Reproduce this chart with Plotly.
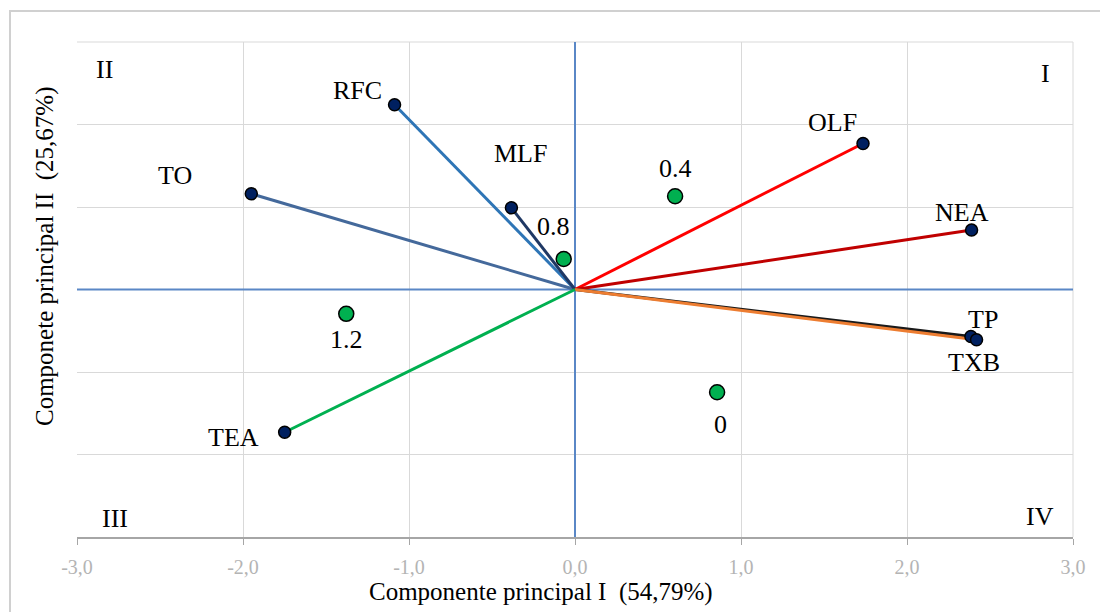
import plotly.graph_objects as go

# ---- data ----
var_names = ["RFC", "TO", "MLF", "OLF", "NEA", "TP", "TXB", "TEA"]
var_x = [-1.087, -1.95, -0.383, 1.735, 2.389, 2.385, 2.419, -1.749]
var_y = [2.24, 1.16, 0.99, 1.77, 0.72, -0.57, -0.61, -1.73]

obs_names = ["0.8", "0.4", "1.2", "0"]
obs_x = [-0.068, 0.603, -1.378, 0.856]
obs_y = [0.37, 1.13, -0.295, -1.245]

x_ticks = [-3, -2, -1, 0, 1, 2, 3]
x_ticklabels = [("%.1f" % v).replace(".", ",") for v in x_ticks]
quadrants = ["I", "II", "III", "IV"]

# ---- styles ----
var_colors = {"RFC": "#2E75B6", "TO": "#44699B", "MLF": "#1F3864", "OLF": "#FF0000",
              "NEA": "#C00000", "TP": "#1A1A1A", "TXB": "#ED7D31", "TEA": "#00B050"}
label_shift = {"RFC": (-37, 14), "TO": (-76, 18), "MLF": (9, 54), "OLF": (-31, 21),
               "NEA": (-10, 18), "TP": (12, 17), "TXB": (-3, -23), "TEA": (-51, -5),
               "0.8": (-10, 32), "0.4": (0, 28), "1.2": (0, -26), "0": (3, -32)}
# page offset: browser body margin of 8px
OFF = 8
PL, PR, PT, PB = 77, 1073, 42, 537  # plot area in page pixels
W = PR - PL
H = PB - PT


def px2paper(px, py):
    return (px - PL) / W, (PB - py) / H


quad_pix = {"I": (1045, 74), "II": (104, 69), "III": (115, 518), "IV": (1040, 516)}
FONT = "Liberation Serif"
AXIS_BLUE = "#5A87C6"
LABEL_SIZE = 26

fig = go.Figure()

# axes lines through origin
fig.add_trace(go.Scatter(x=[-3, 3], y=[0, 0], mode="lines",
                         line=dict(color=AXIS_BLUE, width=2), hoverinfo="skip", showlegend=False))
fig.add_trace(go.Scatter(x=[0, 0], y=[-3, 3], mode="lines",
                         line=dict(color=AXIS_BLUE, width=2), hoverinfo="skip", showlegend=False))

# vectors
for n, xv, yv in zip(var_names, var_x, var_y):
    fig.add_trace(go.Scatter(x=[0, xv], y=[0, yv], mode="lines",
                             line=dict(color=var_colors[n], width=3),
                             showlegend=False, hoverinfo="skip"))
# vector end markers
fig.add_trace(go.Scatter(x=var_x, y=var_y, mode="markers", text=var_names,
                         marker=dict(size=12, color="#002060", line=dict(color="#000000", width=1.5)),
                         showlegend=False))
# observation markers
fig.add_trace(go.Scatter(x=obs_x, y=obs_y, mode="markers", text=obs_names,
                         marker=dict(size=15, color="#00B050", line=dict(color="#000000", width=1.5)),
                         showlegend=False))

annotations = []
for n, xv, yv in list(zip(var_names, var_x, var_y)) + list(zip(obs_names, obs_x, obs_y)):
    dx, dy = label_shift[n]
    annotations.append(dict(x=xv, y=yv, xref="x", yref="y", text=n, showarrow=False,
                            xshift=dx, yshift=dy,
                            font=dict(family=FONT, size=LABEL_SIZE, color="#000000")))
for q in quadrants:
    qx, qy = px2paper(*quad_pix[q])
    annotations.append(dict(x=qx, y=qy, xref="paper", yref="paper", text=q, showarrow=False,
                            xanchor="center", yanchor="middle",
                            font=dict(family=FONT, size=LABEL_SIZE, color="#000000")))
# axis titles
tx, ty = px2paper(541, 592)
annotations.append(dict(x=tx, y=ty, xref="paper", yref="paper",
                        text="Componente principal I\u00a0 (54,79%)", showarrow=False,
                        xanchor="center", yanchor="middle",
                        font=dict(family=FONT, size=25, color="#000000")))
tx, ty = px2paper(45, 256)
annotations.append(dict(x=tx, y=ty, xref="paper", yref="paper",
                        text="Componete principal II\u00a0 (25,67%)", showarrow=False, textangle=-90,
                        xanchor="center", yanchor="middle",
                        font=dict(family=FONT, size=25, color="#000000")))

bx0, by0 = px2paper(10, 625)
bx1, by1 = px2paper(1125, 11)

fig.update_layout(
    width=1108 - OFF, height=612 - OFF,
    margin=dict(l=PL - OFF, r=1108 - PR, t=PT - OFF, b=612 - PB),
    plot_bgcolor="white", paper_bgcolor="white",
    annotations=annotations,
    shapes=[dict(type="rect", xref="paper", yref="paper",
                 x0=bx0, x1=bx1, y0=by0, y1=by1,
                 line=dict(color="#D0D0D0", width=2), layer="below"),
            dict(type="line", xref="paper", yref="paper", x0=1, x1=1, y0=0, y1=1,
                 line=dict(color="#D9D9D9", width=1), layer="below"),
            dict(type="line", xref="paper", yref="paper", x0=0, x1=1, y0=1, y1=1,
                 line=dict(color="#D9D9D9", width=1), layer="below")],
    xaxis=dict(range=[-3, 3], tickvals=x_ticks, ticktext=x_ticklabels, showgrid=True,
               gridcolor="#D9D9D9", gridwidth=1, zeroline=False,
               showline=True, linecolor="#A6A6A6", linewidth=1.5,
               ticks="outside", ticklen=6, tickcolor="#A6A6A6", ticklabelstandoff=5,
               tickfont=dict(family=FONT, size=20, color="#B4B4B4")),
    yaxis=dict(range=[-3, 3], dtick=1, showgrid=True, gridcolor="#D9D9D9", gridwidth=1,
               zeroline=False, showticklabels=False, showline=False),
)

fig.write_html("out.html")
